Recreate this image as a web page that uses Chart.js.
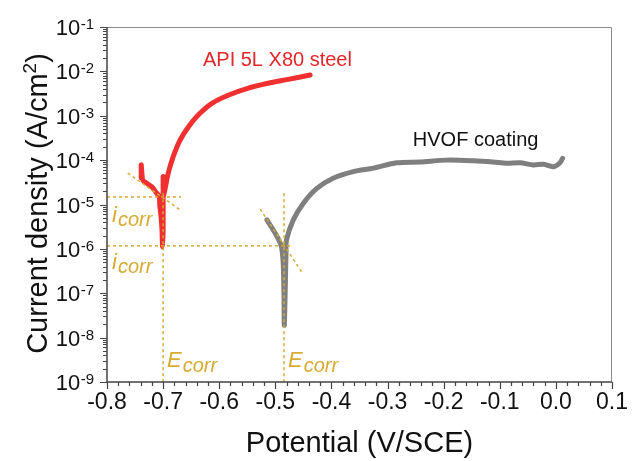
<!DOCTYPE html>
<html>
<head>
<meta charset="utf-8">
<script src="https://cdn.jsdelivr.net/npm/chart.js@4.4.1/dist/chart.umd.min.js"></script>
<style>
  html, body { margin: 0; padding: 0; background: #fff; }
</style>
</head>
<body>
<canvas id="chart" width="634" height="461"></canvas>
<script>
// polarisation curves, potential (V/SCE) vs current density (A/cm2)
const steelPotential = [-0.739, -0.739, -0.738, -0.736, -0.729, -0.720, -0.713, -0.707, -0.706, -0.704, -0.702, -0.701, -0.700, -0.700, -0.6995, -0.697, -0.691, -0.682, -0.670, -0.655, -0.637, -0.613, -0.584, -0.548, -0.513, -0.477, -0.438]
const steelCurrent = [4.0e-5, 7.8e-5, 5.4e-5, 3.5e-5, 3.0e-5, 2.5e-5, 1.9e-5, 1.5e-5, 9.8e-6, 5.8e-6, 2.7e-6, 1.1e-6, 2.7e-6, 4.2e-5, 1.6e-5, 2.1e-5, 5.0e-5, 1.2e-4, 2.8e-4, 5.6e-4, 1.05e-3, 1.9e-3, 2.9e-3, 4.2e-3, 5.4e-3, 6.6e-3, 8.3e-3]

const coatPotential = [-0.515, -0.504, -0.495, -0.489, -0.486, -0.4845, -0.484, -0.482, -0.481, -0.480, -0.468, -0.450, -0.426, -0.397, -0.361, -0.325, -0.284, -0.242, -0.195, -0.147, -0.112, -0.088, -0.064, -0.040, -0.022, -0.005, 0.007, 0.012]
const coatCurrent = [4.5e-6, 2.7e-6, 1.7e-6, 1.1e-6, 4.7e-7, 8.3e-8, 1.9e-8, 2.0e-7, 8.1e-7, 1.6e-6, 4.5e-6, 1.07e-5, 2.3e-5, 3.9e-5, 5.5e-5, 6.6e-5, 8.7e-5, 9.1e-5, 1.0e-4, 9.7e-5, 9.1e-5, 8.5e-5, 8.7e-5, 7.8e-5, 8.1e-5, 7.1e-5, 8.7e-5, 1.1e-4]

// Tafel construction lines (dashed)
const steelIcorrLine = [[-0.8, 1.48e-5], [-0.668, 1.48e-5]]
const steelTafelLine = [[-0.763, 5.1e-5], [-0.670, 7.6e-6]]
const steelEcorrLine = [[-0.700, 1.8e-5], [-0.700, 1e-9]]
const coatIcorrLine = [[-0.8, 1.17e-6], [-0.470, 1.17e-6]]
const coatTafelLine = [[-0.527, 7.9e-6], [-0.452, 2.9e-7]]
const coatEcorrLine = [[-0.4845, 1.8e-5], [-0.4845, 1e-9]]

const xTickValues = [-0.8, -0.7, -0.6, -0.5, -0.4, -0.3, -0.2, -0.1, 0.0, 0.1]
const xTickLabels = ['-0.8', '-0.7', '-0.6', '-0.5', '-0.4', '-0.3', '-0.2', '-0.1', '0.0', '0.1']
const yTickExponents = [-9, -8, -7, -6, -5, -4, -3, -2, -1]

const FONT = "'Liberation Sans', Arial, sans-serif"
const GOLD = '#d6aa33'

const pts = (xs, ys) => xs.map((v, i) => ({ x: v, y: ys[i] }))
const seg = arr => arr.map(p => ({ x: p[0], y: p[1] }))

const dashed = data => ({
  data: seg(data),
  borderColor: GOLD,
  borderWidth: 1.5,
  borderDash: [3, 3],
  pointRadius: 0,
  showLine: true,
  tension: 0
})

const frame = {
  id: 'frame',
  afterDraw(chart) {
    const { ctx, chartArea: a, scales: { x, y } } = chart
    ctx.save()

    // top and right border
    ctx.strokeStyle = '#8c8c8c'
    ctx.lineWidth = 1
    ctx.beginPath()
    ctx.moveTo(a.left, a.top + 0.5)
    ctx.lineTo(a.right - 0.5, a.top + 0.5)
    ctx.lineTo(a.right - 0.5, a.bottom)
    ctx.stroke()

    // left and bottom axes
    ctx.strokeStyle = '#444'
    ctx.lineWidth = 1.5
    ctx.beginPath()
    ctx.moveTo(a.left, a.top)
    ctx.lineTo(a.left, a.bottom)
    ctx.lineTo(a.right, a.bottom)
    ctx.stroke()

    // x ticks
    ctx.lineWidth = 1.2
    ctx.beginPath()
    for (let k = 0; k <= 45; k++) {
      const v = -0.8 + k * 0.02
      const px = Math.round(x.getPixelForValue(v)) + 0.5
      const len = k % 5 === 0 ? 7 : 4
      ctx.moveTo(px, a.bottom)
      ctx.lineTo(px, a.bottom + len)
    }
    // y ticks
    yTickExponents.forEach(e => {
      const py = Math.round(y.getPixelForValue(Math.pow(10, e))) + 0.5
      ctx.moveTo(a.left, py)
      ctx.lineTo(a.left - 7, py)
      if (e < -1) {
        for (let m = 2; m <= 9; m++) {
          const q = Math.round(y.getPixelForValue(m * Math.pow(10, e))) + 0.5
          ctx.moveTo(a.left, q)
          ctx.lineTo(a.left - 4, q)
        }
      }
    })
    ctx.stroke()

    // tick labels
    ctx.fillStyle = '#111'
    ctx.textBaseline = 'alphabetic'
    ctx.font = '23px ' + FONT
    ctx.textAlign = 'center'
    xTickValues.forEach((v, i) => {
      ctx.fillText(xTickLabels[i], x.getPixelForValue(v), a.bottom + 27)
    })
    ctx.textAlign = 'right'
    yTickExponents.forEach(e => {
      const py = y.getPixelForValue(Math.pow(10, e))
      ctx.font = '15px ' + FONT
      const sup = String(e)
      const sw = ctx.measureText(sup).width
      ctx.fillText(sup, a.left - 13, py + 2)
      ctx.font = '22px ' + FONT
      ctx.fillText('10', a.left - 13 - sw - 0.5, py + 8)
    })

    // axis titles
    ctx.font = '29px ' + FONT
    ctx.textAlign = 'center'
    ctx.fillText('Potential (V/SCE)', (a.left + a.right) / 2, 452)

    ctx.save()
    ctx.translate(47, (a.top + a.bottom) / 2 - 1)
    ctx.rotate(-Math.PI / 2)
    ctx.textAlign = 'left'
    const t1 = 'Current density (A/cm', t3 = ')'
    ctx.font = '29px ' + FONT
    const w1 = ctx.measureText(t1).width, w3 = ctx.measureText(t3).width
    ctx.font = '19px ' + FONT
    const w2 = ctx.measureText('2').width
    let sx = -(w1 + w2 + w3) / 2
    ctx.font = '29px ' + FONT
    ctx.fillText(t1, sx, 0)
    ctx.font = '19px ' + FONT
    ctx.fillText('2', sx + w1, -11)
    ctx.font = '29px ' + FONT
    ctx.fillText(t3, sx + w1 + w2, 0)
    ctx.restore()

    // series labels
    ctx.textAlign = 'left'
    ctx.font = '20px ' + FONT
    ctx.fillStyle = '#e3262b'
    ctx.fillText('API 5L X80 steel', x.getPixelForValue(-0.629), y.getPixelForValue(1.32e-2))
    ctx.fillStyle = '#111'
    ctx.fillText('HVOF coating', x.getPixelForValue(-0.255), y.getPixelForValue(2.1e-4))

    // i_corr / E_corr labels
    const sub = (big, bigSize, px, py, drop) => {
      ctx.fillStyle = GOLD
      ctx.font = 'italic ' + bigSize + 'px ' + FONT
      ctx.fillText(big, px, py)
      const bw = ctx.measureText(big).width
      ctx.font = 'italic 20px ' + FONT
      ctx.fillText('corr', px + bw + 1, py + drop)
    }
    sub('i', 22, x.getPixelForValue(-0.791), y.getPixelForValue(4.1e-6), 4)
    sub('i', 22, x.getPixelForValue(-0.791), y.getPixelForValue(3.5e-7), 4)
    sub('E', 22, x.getPixelForValue(-0.693), y.getPixelForValue(2.2e-9), 5)
    sub('E', 22, x.getPixelForValue(-0.4775), y.getPixelForValue(2.2e-9), 5)

    ctx.restore()
  }
}

new Chart(document.getElementById('chart'), {
  type: 'scatter',
  data: {
    datasets: [
      dashed(steelIcorrLine),
      dashed(steelTafelLine),
      dashed(steelEcorrLine),
      dashed(coatIcorrLine),
      dashed(coatTafelLine),
      dashed(coatEcorrLine),
      {
        data: pts(steelPotential, steelCurrent),
        borderColor: '#f03030',
        borderWidth: 5,
        pointRadius: 0,
        showLine: true,
        tension: 0.3,
        borderCapStyle: 'round',
        borderJoinStyle: 'round'
      },
      {
        data: pts(coatPotential, coatCurrent),
        borderColor: '#7f7f7f',
        borderWidth: 5,
        pointRadius: 0,
        showLine: true,
        tension: 0.3,
        borderCapStyle: 'round',
        borderJoinStyle: 'round'
      }
    ]
  },
  options: {
    responsive: false,
    animation: false,
    devicePixelRatio: 1,
    layout: { padding: { top: 27, right: 22, left: 0, bottom: 0 } },
    plugins: { legend: { display: false }, tooltip: { enabled: false } },
    scales: {
      x: {
        type: 'linear', min: -0.8, max: 0.1,
        ticks: { display: false }, grid: { display: false }, border: { display: false },
        afterFit: s => { s.height = 79 }
      },
      y: {
        type: 'logarithmic', min: 1e-9, max: 1e-1,
        ticks: { display: false }, grid: { display: false }, border: { display: false },
        afterFit: s => { s.width = 107 }
      }
    }
  },
  plugins: [frame]
})
</script>
</body>
</html>
